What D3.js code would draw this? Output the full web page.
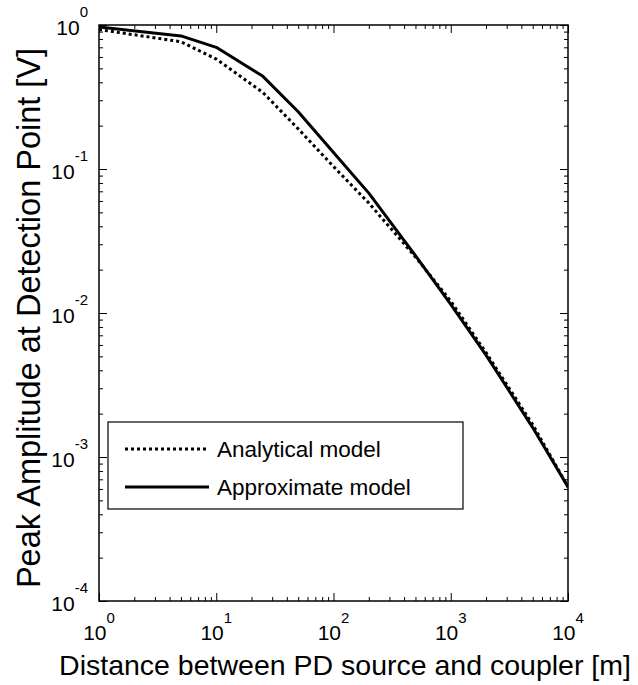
<!DOCTYPE html>
<html>
<head>
<meta charset="utf-8">
<script src="https://cdn.jsdelivr.net/npm/d3@7"></script>
<style>
  html, body { margin: 0; padding: 0; background: #fff; }
  svg { display: block; font-family: "Liberation Sans", Arial, Helvetica, sans-serif; }
</style>
</head>
<body>
<svg id="chart" width="638" height="685"></svg>
<script>
// Distance from the PD source to the coupler [m]
const distances = [1, 5, 10, 25, 50, 100, 200, 500, 1000, 2000, 5000, 10000];
// Peak amplitude at the detection point [V]
const analyticalModel  = [0.93, 0.765, 0.58, 0.34, 0.19, 0.104, 0.058, 0.0245, 0.0121, 0.0053, 0.00168, 0.00062];
const approximateModel = [0.97, 0.84, 0.70, 0.44, 0.25, 0.13, 0.068, 0.025, 0.0115, 0.0051, 0.0016, 0.00062];

const xDomain = [1, 1e4];
const yDomain = [1e-4, 1];
const xExponents = [0, 1, 2, 3, 4];
const yExponents = [-4, -3, -2, -1, 0];

const legendLabels = ["Analytical model", "Approximate model"];
const xTitle = "Distance between PD source and coupler [m]";
const yTitle = "Peak Amplitude at Detection Point [V]";

const svg = d3.select("#chart");
const plot = { left: 99, right: 568, top: 25, bottom: 601 };

const x = d3.scaleLog().domain(xDomain).range([plot.left, plot.right]);
const y = d3.scaleLog().domain(yDomain).range([plot.bottom, plot.top]);

// minor ticks 2..9 in every decade
function minors(domain) {
  const out = [];
  for (let e = Math.log10(domain[0]); e < Math.log10(domain[1]); e++) {
    for (let m = 2; m <= 9; m++) out.push(m * Math.pow(10, e));
  }
  return out;
}
const xMajor = xExponents.map(e => Math.pow(10, e));
const yMajor = yExponents.map(e => Math.pow(10, e));

const H = plot.bottom - plot.top, W = plot.right - plot.left;

function styleAxis(g) {
  g.select(".domain").remove();
  g.selectAll("line").attr("stroke", "#000").attr("stroke-width", 1);
}

// inward ticks on all four sides
svg.append("g").attr("transform", `translate(0,${plot.bottom})`)
  .call(d3.axisBottom(x).tickValues(xMajor).tickSize(-8).tickFormat("")).call(styleAxis);
svg.append("g").attr("transform", `translate(0,${plot.bottom})`)
  .call(d3.axisBottom(x).tickValues(minors(xDomain)).tickSize(-4).tickFormat("")).call(styleAxis);
svg.append("g").attr("transform", `translate(0,${plot.top})`)
  .call(d3.axisTop(x).tickValues(xMajor).tickSize(-8).tickFormat("")).call(styleAxis);
svg.append("g").attr("transform", `translate(0,${plot.top})`)
  .call(d3.axisTop(x).tickValues(minors(xDomain)).tickSize(-4).tickFormat("")).call(styleAxis);
svg.append("g").attr("transform", `translate(${plot.left},0)`)
  .call(d3.axisLeft(y).tickValues(yMajor).tickSize(-8).tickFormat("")).call(styleAxis);
svg.append("g").attr("transform", `translate(${plot.left},0)`)
  .call(d3.axisLeft(y).tickValues(minors(yDomain)).tickSize(-4).tickFormat("")).call(styleAxis);
svg.append("g").attr("transform", `translate(${plot.right},0)`)
  .call(d3.axisRight(y).tickValues(yMajor).tickSize(-8).tickFormat("")).call(styleAxis);
svg.append("g").attr("transform", `translate(${plot.right},0)`)
  .call(d3.axisRight(y).tickValues(minors(yDomain)).tickSize(-4).tickFormat("")).call(styleAxis);

// axes box
svg.append("rect")
  .attr("x", plot.left).attr("y", plot.top)
  .attr("width", W).attr("height", H)
  .attr("fill", "none").attr("stroke", "#000").attr("stroke-width", 1.5);

// power-of-ten tick labels
svg.append("g").selectAll("text").data(xExponents).join("text")
  .attr("x", e => x(Math.pow(10, e)))
  .attr("y", 640)
  .attr("text-anchor", "middle")
  .attr("font-size", 21)
  .each(function (e) {
    const t = d3.select(this);
    t.append("tspan").text("10");
    t.append("tspan").attr("font-size", 15).attr("dy", -17).text(String(e));
  });

svg.append("g").selectAll("text").data(yExponents).join("text")
  .attr("x", 88)
  .attr("y", e => y(Math.pow(10, e)) + 10)
  .attr("text-anchor", "end")
  .attr("font-size", 21)
  .each(function (e) {
    const t = d3.select(this);
    t.append("tspan").text("10");
    t.append("tspan").attr("font-size", 15).attr("dy", -18).text(String(e));
  });

// axis titles
svg.append("text")
  .attr("x", 345).attr("y", 675)
  .attr("text-anchor", "middle")
  .attr("font-size", 28.5)
  .text(xTitle);

svg.append("text")
  .attr("transform", `translate(40,318) rotate(-90)`)
  .attr("text-anchor", "middle")
  .attr("font-size", 32.5)
  .text(yTitle);

// curves
const line = d3.line().x(d => x(d[0])).y(d => y(d[1]));
svg.append("clipPath").attr("id", "plotclip")
  .append("rect").attr("x", plot.left).attr("y", plot.top - 3).attr("width", W).attr("height", H + 3);

svg.append("path")
  .datum(distances.map((d, i) => [d, analyticalModel[i]]))
  .attr("d", line)
  .attr("fill", "none").attr("stroke", "#000")
  .attr("stroke-width", 3).attr("stroke-dasharray", "3,3")
  .attr("clip-path", "url(#plotclip)");

svg.append("path")
  .datum(distances.map((d, i) => [d, approximateModel[i]]))
  .attr("d", line)
  .attr("fill", "none").attr("stroke", "#000")
  .attr("stroke-width", 3)
  .attr("stroke-linejoin", "round")
  .attr("clip-path", "url(#plotclip)");

// legend
const leg = svg.append("g");
leg.append("rect")
  .attr("x", 108).attr("y", 422).attr("width", 355).attr("height", 87)
  .attr("fill", "#fff").attr("stroke", "#000").attr("stroke-width", 1.2);
const rows = [
  { label: legendLabels[0], dash: "3,3", y: 449 },
  { label: legendLabels[1], dash: null, y: 487 }
];
rows.forEach(r => {
  leg.append("line")
    .attr("x1", 125).attr("x2", 209).attr("y1", r.y).attr("y2", r.y)
    .attr("stroke", "#000").attr("stroke-width", 3)
    .attr("stroke-dasharray", r.dash);
  leg.append("text")
    .attr("x", 217).attr("y", r.y + 8)
    .attr("font-size", 22.5)
    .text(r.label);
});
</script>
</body>
</html>
